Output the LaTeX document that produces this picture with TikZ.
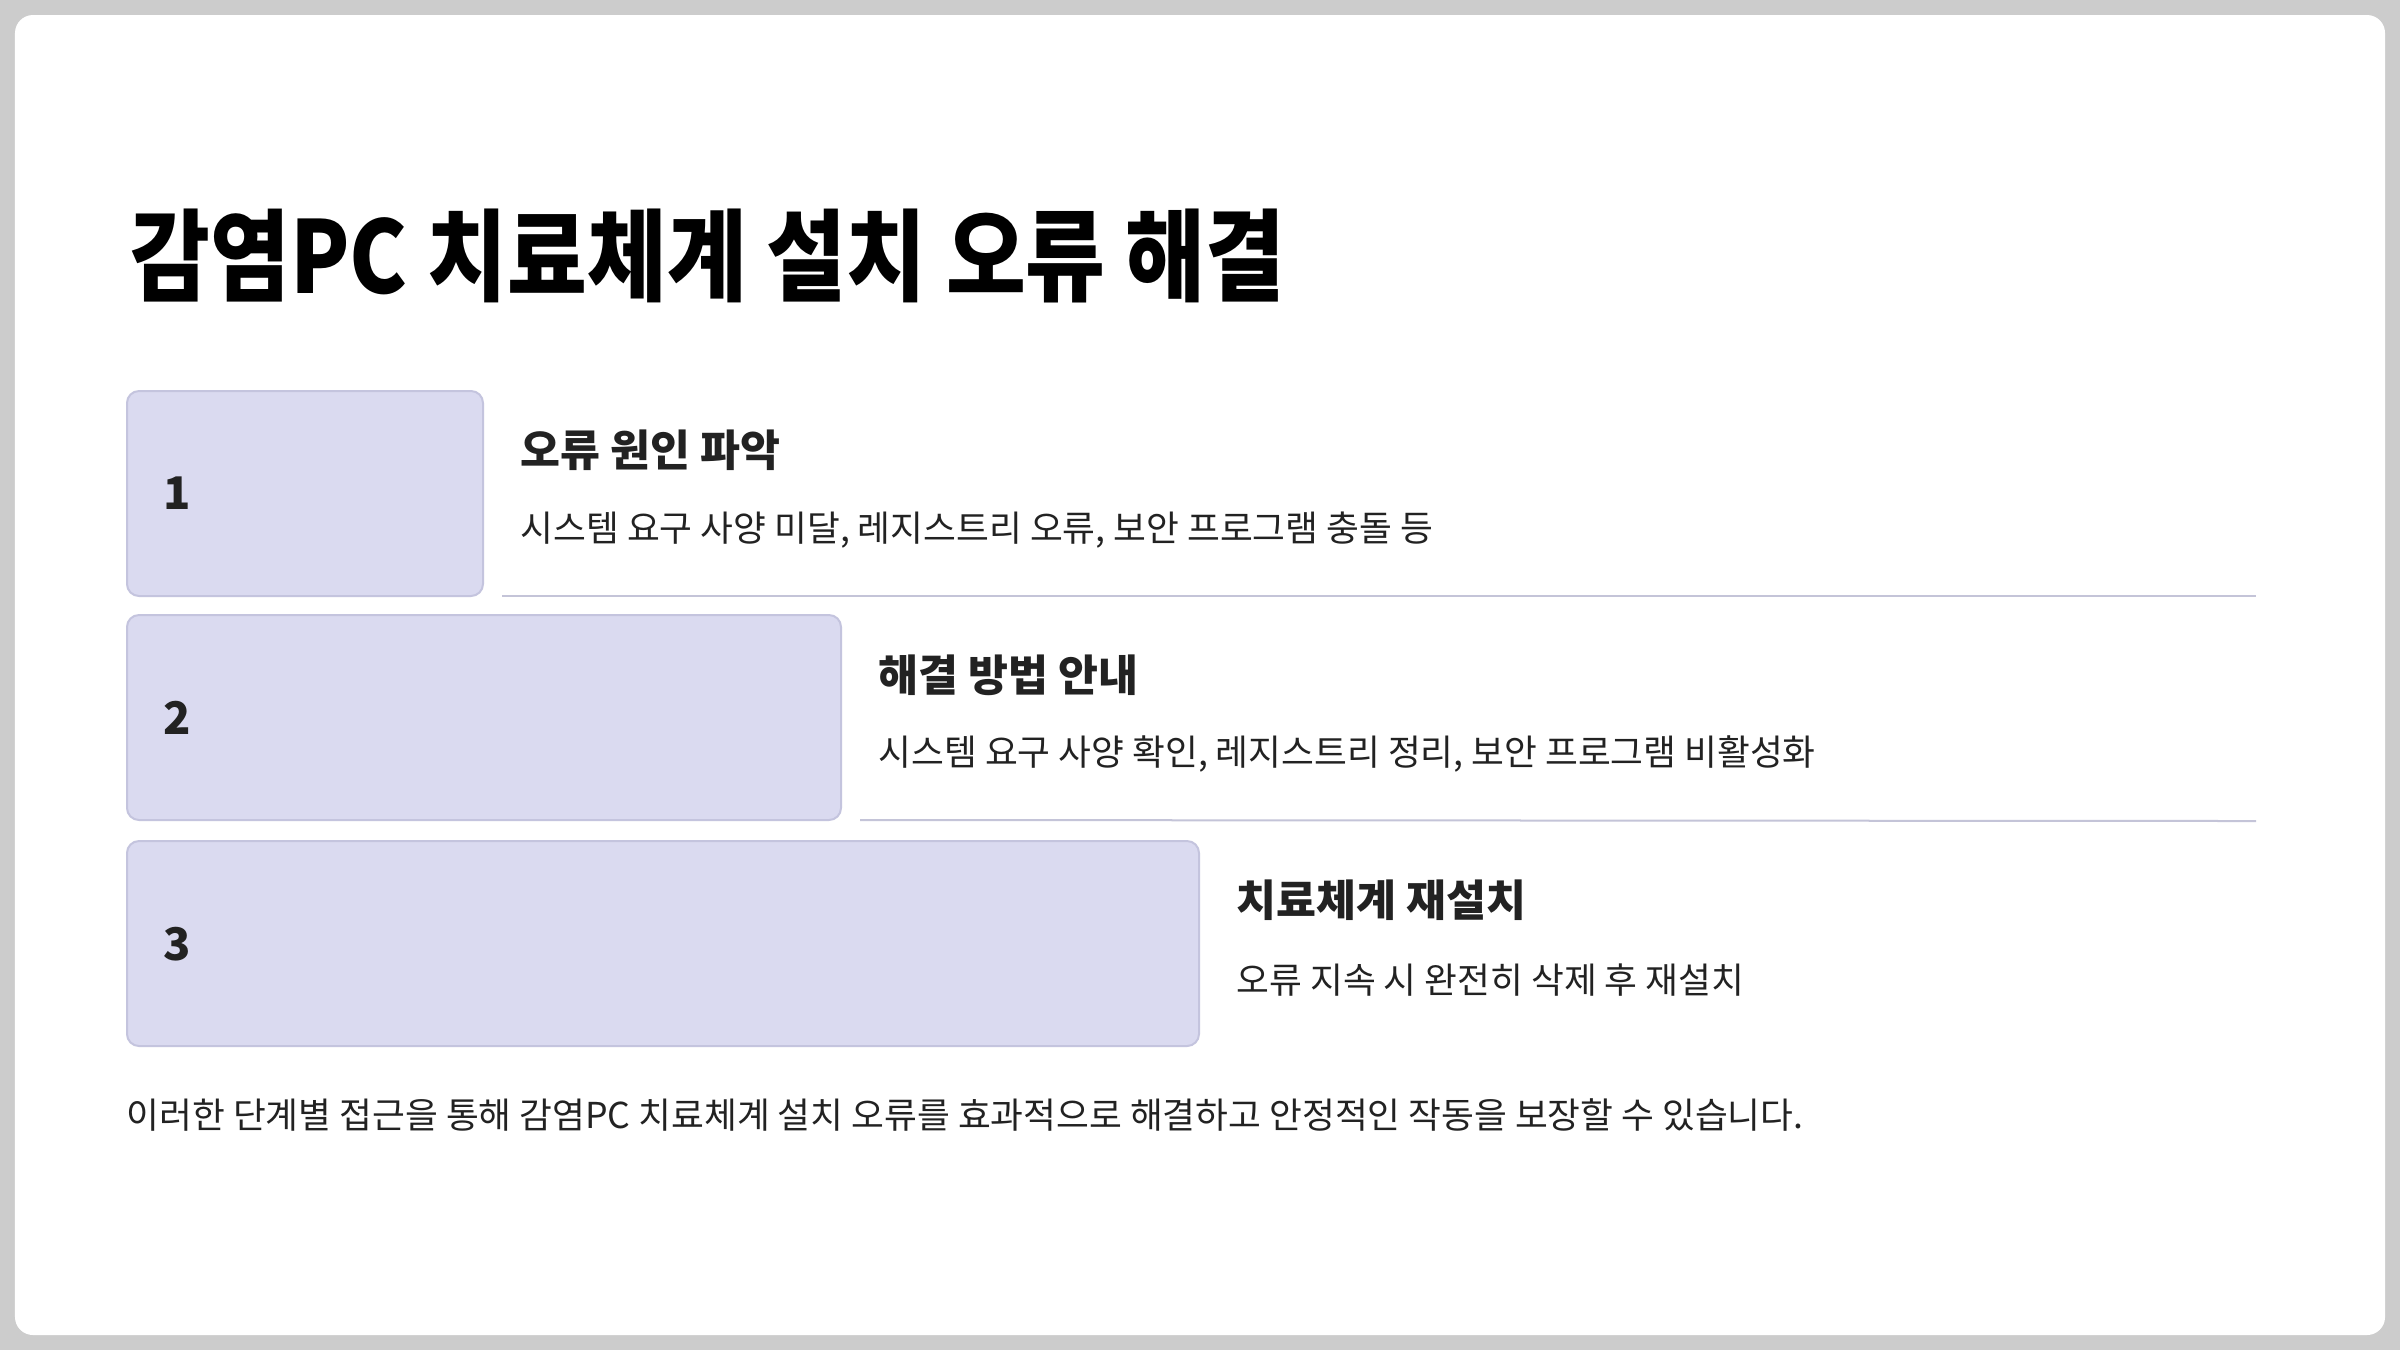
\documentclass[tikz,border=0pt]{standalone}
\usepackage{fontspec}
\setmainfont{Noto Sans CJK KR}
\newfontfamily\titlefont[FakeStretch=0.866]{Noto Sans CJK KR}
\usepackage{tikz}
\definecolor{bggray}{RGB}{204,204,204}
\definecolor{boxfill}{RGB}{218,218,240}
\definecolor{boxline}{RGB}{196,196,222}
\definecolor{sepgray}{RGB}{196,196,216}
\definecolor{textdark}{RGB}{34,34,34}
\tikzstyle{stagebox} = [rectangle, rounded corners=0.12cm, minimum height=2.05cm, anchor=north west, inner sep=0pt, outer sep=0pt, draw=boxline, line width=0.02cm, fill=boxfill]
\tikzstyle{stagenum} = [anchor=west, inner sep=0pt, text=textdark, font=\fontsize{12.8pt}{15pt}\selectfont\bfseries]
\tikzstyle{stagehead} = [anchor=west, inner sep=0pt, text=textdark, font=\fontsize{12.35pt}{15pt}\selectfont\bfseries]
\tikzstyle{stagedesc} = [anchor=west, inner sep=0pt, text=textdark, font=\fontsize{10.15pt}{12pt}\selectfont]
\tikzstyle{sepline} = [draw=sepgray, line width=0.02cm]

\begin{document}
\begin{tikzpicture}
    % page and card
    \fill [bggray] (0,0) rectangle (24,-13.5);
    \fill [white, rounded corners=0.18cm] (0.15,-0.15) rectangle (23.85,-13.35);

    \node (title) [anchor=west, inner sep=0pt, font=\titlefont\fontsize{28.5pt}{34pt}\selectfont\bfseries] at (1.30,-2.555) {감염PC 치료체계 설치 오류 해결};

    \node (box1) [stagebox, minimum width=3.56cm] at (1.27,-3.91) {};
    \node (box2) [stagebox, minimum width=7.14cm] at (1.27,-6.15) {};
    \node (box3) [stagebox, minimum width=10.72cm] at (1.27,-8.41) {};

    \node (num1) [stagenum] at (1.63,-4.935) {1};
    \node (num2) [stagenum] at (1.63,-7.18) {2};
    \node (num3) [stagenum] at (1.63,-9.44) {3};

    \node (head1) [stagehead] at (5.20,-4.505) {오류 원인 파악};
    \node (desc1) [stagedesc] at (5.20,-5.30) {시스템 요구 사양 미달, 레지스트리 오류, 보안 프로그램 충돌 등};
    \node (head2) [stagehead] at (8.78,-6.755) {해결 방법 안내};
    \node (desc2) [stagedesc] at (8.78,-7.54) {시스템 요구 사양 확인, 레지스트리 정리, 보안 프로그램 비활성화};
    \node (head3) [stagehead] at (12.36,-9.005) {치료체계 재설치};
    \node (desc3) [stagedesc] at (12.36,-9.80) {오류 지속 시 완전히 삭제 후 재설치};

    \coordinate (sep1end) at (22.56,-5.96);
    \coordinate (sep2end) at (22.56,-8.21);
    \draw [sepline] ([xshift=0.19cm]box1.south east) -- (sep1end);
    \draw [sepline] ([xshift=0.19cm]box2.south east) -- (sep2end);

    \node (footer) [anchor=west, inner sep=0pt, text=textdark, font=\fontsize{10.15pt}{12pt}\selectfont] at (1.26,-11.15) {이러한 단계별 접근을 통해 감염PC 치료체계 설치 오류를 효과적으로 해결하고 안정적인 작동을 보장할 수 있습니다.};
\end{tikzpicture}
\end{document}
